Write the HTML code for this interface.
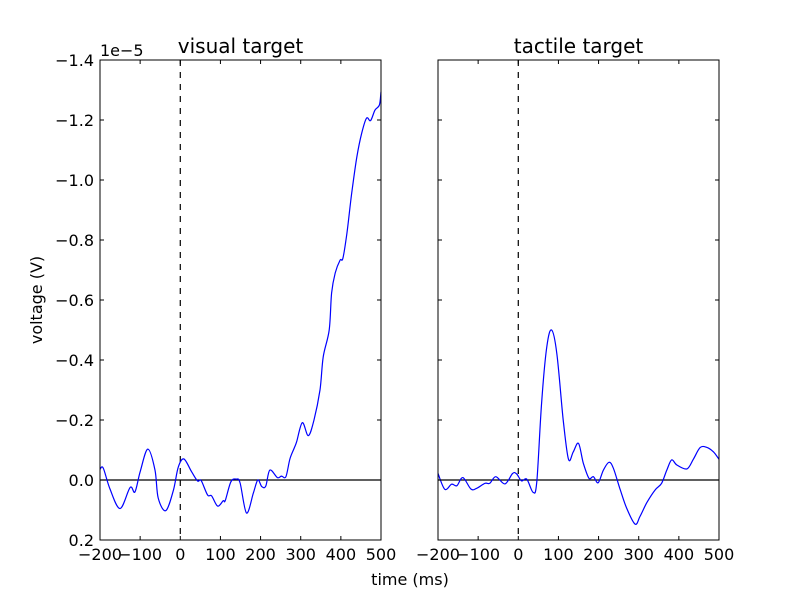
<!DOCTYPE html>
<html><head><meta charset="utf-8"><style>
body{margin:0;background:#fff}
svg text{font-family:"DejaVu Sans","Liberation Sans",sans-serif;fill:#000}
</style></head><body>
<svg id="fig" width="800" height="600" xmlns="http://www.w3.org/2000/svg"></svg>
<script>
const xTicks=[-200,-100,0,100,200,300,400,500];
const yTicks=[-14,-12,-10,-8,-6,-4,-2,0,2];
const yTickLabels=["\u22121.4","\u22121.2","\u22121.0","\u22120.8","\u22120.6","\u22120.4","\u22120.2","0.0","0.2"];
const visualTimes=[-200,-192,-175,-150,-125,-113,-100,-81,-63,-55,-36,-17,-5,9,28,43,52,68,78,93,107,112,126,140,149,165,182,193,203,213,223,242,252,263,273,284,290,304,319,333,348,356,371,377,386,398,405,415,427,440,452,464,474,485,496,500];
const visualValues=[-0.35,-0.4,0.3,0.95,0.25,0.4,-0.27,-1.03,-0.33,0.6,1.02,0.33,-0.43,-0.7,-0.28,0.03,0.02,0.5,0.53,0.87,0.69,0.69,0.06,-0.03,0.1,1.1,0.44,0,0.22,0.2,-0.33,-0.08,-0.13,-0.11,-0.7,-1.07,-1.28,-1.91,-1.48,-2.0,-3.0,-4.1,-5.0,-6.23,-6.9,-7.33,-7.39,-8.22,-9.56,-10.78,-11.56,-12.06,-11.98,-12.33,-12.5,-12.94];
const tactileTimes=[-200,-183,-166,-153,-138,-118,-104,-83,-71,-56,-33,-14,-4,8,21,37,46,58,71,83,96,112,125,137,150,162,176,187,199,212,226,237,253,270,291,303,320,341,357,370,382,395,420,436,453,469,486,500];
const tactileValues=[-0.22,0.31,0.14,0.19,-0.08,0.3,0.28,0.11,0.11,-0.11,0.13,-0.22,-0.2,0.03,-0.03,0.41,0.06,-2.56,-4.44,-5.0,-4.22,-2.0,-0.69,-0.94,-1.22,-0.56,-0.06,-0.11,0.09,-0.33,-0.59,-0.39,0.28,0.94,1.47,1.22,0.76,0.33,0.11,-0.33,-0.67,-0.5,-0.37,-0.69,-1.08,-1.09,-0.94,-0.69];

const NS="http://www.w3.org/2000/svg";
const svg=document.getElementById('fig');
function mk(tag,attrs,parent){const e=document.createElementNS(NS,tag);for(const k in attrs)e.setAttribute(k,attrs[k]);(parent||svg).appendChild(e);return e;}
const yScale=v=>480+v*30;
const axTop=60,axBot=540;
function smoothPath(p){
  let d='M'+p[0][0].toFixed(1)+','+p[0][1].toFixed(1);
  for(let i=0;i<p.length-1;i++){
    const p0=p[Math.max(i-1,0)],p1=p[i],p2=p[i+1],p3=p[Math.min(i+2,p.length-1)];
    const c1x=p1[0]+(p2[0]-p0[0])/6,c1y=p1[1]+(p2[1]-p0[1])/6;
    const c2x=p2[0]-(p3[0]-p1[0])/6,c2y=p2[1]-(p3[1]-p1[1])/6;
    d+=' C'+c1x.toFixed(1)+','+c1y.toFixed(1)+' '+c2x.toFixed(1)+','+c2y.toFixed(1)+' '+p2[0].toFixed(1)+','+p2[1].toFixed(1);
  }
  return d;
}
function panel(x0,title,times,vals,showY,nm){
  const xScale=t=>x0+(t+200)*281/700;
  const g=mk('g',{});
  
  
  const zl=mk('line',{x1:x0,x2:x0+281,y1:yScale(0),y2:yScale(0),stroke:'#000','stroke-width':1.2},g);
  
  
  const on=mk('line',{x1:xScale(0),x2:xScale(0),y1:axTop,y2:axBot,stroke:'#000','stroke-width':1.2,'stroke-dasharray':'6,6'},g);
  
  
  const pts=times.map((t,i)=>[xScale(t),yScale(vals[i])]);
  const pl=mk('path',{d:smoothPath(pts),fill:'none',stroke:'#0000ff','stroke-width':1.2,'stroke-linejoin':'round'},g);
  
  
  const fr=mk('rect',{x:x0,y:axTop,width:281,height:480,fill:'none',stroke:'#000','stroke-width':1},g);
  
  
  xTicks.forEach(t=>{const x=xScale(t);
    mk('line',{x1:x,x2:x,y1:axBot,y2:axBot-4,stroke:'#000'},g);
    mk('line',{x1:x,x2:x,y1:axTop,y2:axTop+4,stroke:'#000'},g);
    const tx=mk('text',{x:x,y:axBot+20,'text-anchor':'middle','font-size':16},g);
    tx.textContent=t<0?'\u2212'+(-t):String(t);
    
    
  });
  yTicks.forEach((v,i)=>{const y=yScale(v);
    mk('line',{x1:x0,x2:x0+4,y1:y,y2:y,stroke:'#000'},g);
    mk('line',{x1:x0+281,x2:x0+277,y1:y,y2:y,stroke:'#000'},g);
    if(showY){const tx=mk('text',{x:x0-6,y:y+6,'text-anchor':'end','font-size':16},g);
      tx.textContent=yTickLabels[i];
      
      }
  });
  const tt=mk('text',{x:x0+140.5,y:53,'text-anchor':'middle','font-size':20},g);
  tt.textContent=title;
  
  
}
panel(100,'visual target',visualTimes,visualValues,true,'visual');
panel(438,'tactile target',tactileTimes,tactileValues,false,'tactile');
const off=mk('text',{x:100,y:56,'font-size':16});
off.textContent='1e\u22125';


const yl=mk('text',{x:0,y:0,'text-anchor':'middle','font-size':16,transform:'translate(42,300) rotate(-90)'});
yl.textContent='voltage (V)';


const xl=mk('text',{x:410,y:585,'text-anchor':'middle','font-size':16});
xl.textContent='time (ms)';


</script>
</body></html>
